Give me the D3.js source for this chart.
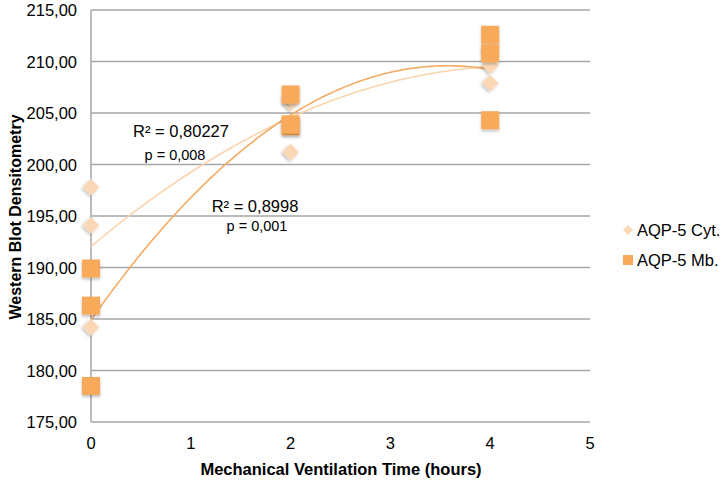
<!DOCTYPE html>
<html>
<head>
<meta charset="utf-8">
<script src="https://cdn.jsdelivr.net/npm/d3@7"></script>
<style>
  body { margin: 0; background: #fff; }
  text { font-family: "Liberation Sans", Arial, sans-serif; fill: #000; }
</style>
</head>
<body>
<div id="chart"></div>
<script>
// Chart data
const hours = [0, 0, 0, 2, 2, 2, 4, 4, 4];
const cytValues = [197.8, 194.1, 184.2, 201.2, 206.0, 206.5, 209.6, 207.9, 211.0];
const mbValues = [189.9, 186.3, 178.5, 206.8, 203.7, 203.9, 212.6, 210.8, 204.3];
const yTicks = [175, 180, 185, 190, 195, 200, 205, 210, 215];
const xTicks = [0, 1, 2, 3, 4, 5];
const seriesNames = ["AQP-5 Cyt.", "AQP-5 Mb."];
const fitLabels = [["R² = 0,80227", "p = 0,008"], ["R² = 0,8998", "p = 0,001"]];

const width = 724;
const height = 483;
const margin = { top: 10, right: 134, bottom: 61, left: 91 };

const cytColor = '#fbd7b6';
const mbColor = '#f8a95a';
const cytLine = '#fbd4ae';
const mbLine = '#f4aa62';

const svg = d3.select('#chart')
  .append('svg')
  .attr('width', width)
  .attr('height', height);

const defs = svg.append('defs');
const shadow = defs.append('filter').attr('id', 'shadow')
  .attr('x', '-50%').attr('y', '-50%').attr('width', '200%').attr('height', '200%');
shadow.append('feDropShadow')
  .attr('dx', 0).attr('dy', 2).attr('stdDeviation', 1.5)
  .attr('flood-color', '#000').attr('flood-opacity', 0.25);

const x = d3.scaleLinear().domain([0, 5]).range([margin.left, width - margin.right]);
const y = d3.scaleLinear().domain([175, 215]).range([height - margin.bottom, margin.top]);

// horizontal gridlines
svg.append('g')
  .selectAll('line')
  .data(yTicks)
  .join('line')
  .attr('x1', x(0)).attr('x2', x(5))
  .attr('y1', d => y(d)).attr('y2', d => y(d))
  .attr('stroke', '#a6a6a6').attr('stroke-width', 1.5);

// y axis line
svg.append('line')
  .attr('x1', x(0)).attr('x2', x(0))
  .attr('y1', y(175)).attr('y2', y(215))
  .attr('stroke', '#a6a6a6').attr('stroke-width', 1.5);

// y tick labels
const fmt = d => d3.format('.2f')(d).replace('.', ',');
svg.append('g')
  .selectAll('text')
  .data(yTicks)
  .join('text')
  .attr('x', x(0) - 14)
  .attr('y', d => y(d) + 6)
  .attr('text-anchor', 'end')
  .attr('font-size', '16.5px')
  .text(fmt);

// x tick labels
svg.append('g')
  .selectAll('text')
  .data(xTicks)
  .join('text')
  .attr('x', d => x(d))
  .attr('y', y(175) + 27)
  .attr('text-anchor', 'middle')
  .attr('font-size', '16.5px')
  .text(d => d);

// axis titles
svg.append('text')
  .attr('x', 341)
  .attr('y', 475)
  .attr('text-anchor', 'middle')
  .attr('font-size', '16.5px')
  .attr('font-weight', 'bold')
  .text('Mechanical Ventilation Time (hours)');

svg.append('text')
  .attr('transform', `translate(21, 217) rotate(-90)`)
  .attr('text-anchor', 'middle')
  .attr('font-size', '16px')
  .attr('font-weight', 'bold')
  .text('Western Blot Densitometry');

// second order polynomial least squares fit
function polyFit(xs, ys) {
  const n = xs.length;
  let s = [0, 0, 0, 0, 0], t = [0, 0, 0];
  for (let i = 0; i < n; i++) {
    for (let k = 0; k < 5; k++) s[k] += Math.pow(xs[i], k);
    for (let k = 0; k < 3; k++) t[k] += ys[i] * Math.pow(xs[i], k);
  }
  const A = [[s[0], s[1], s[2], t[0]], [s[1], s[2], s[3], t[1]], [s[2], s[3], s[4], t[2]]];
  for (let i = 0; i < 3; i++) {
    for (let j = i + 1; j < 3; j++) {
      const f = A[j][i] / A[i][i];
      for (let k = i; k < 4; k++) A[j][k] -= f * A[i][k];
    }
  }
  const c = [0, 0, 0];
  for (let i = 2; i >= 0; i--) {
    let v = A[i][3];
    for (let k = i + 1; k < 3; k++) v -= A[i][k] * c[k];
    c[i] = v / A[i][i];
  }
  return xv => c[0] + c[1] * xv + c[2] * xv * xv;
}

const line = d3.line().x(d => x(d[0])).y(d => y(d[1]));
const steps = d3.range(0, 4.001, 0.05);

const cytFit = polyFit(hours, cytValues);
const mbFit = polyFit(hours, mbValues);

svg.append('path')
  .attr('d', line(steps.map(v => [v, cytFit(v)])))
  .attr('fill', 'none').attr('stroke', cytLine).attr('stroke-width', 1.6);

svg.append('path')
  .attr('d', line(steps.map(v => [v, mbFit(v)])))
  .attr('fill', 'none').attr('stroke', mbLine).attr('stroke-width', 1.6);

// markers
const diamond = d3.symbol().type(d3.symbolSquare).size(140);
svg.append('g')
  .selectAll('path')
  .data(hours.map((h, i) => [h, cytValues[i]]))
  .join('path')
  .attr('d', diamond)
  .attr('transform', d => `translate(${x(d[0])},${y(d[1])}) rotate(45)`)
  .attr('fill', cytColor)
  .attr('filter', 'url(#shadow)');

svg.append('g')
  .selectAll('rect')
  .data(hours.map((h, i) => [h, mbValues[i]]))
  .join('rect')
  .attr('x', d => x(d[0]) - 9)
  .attr('y', d => y(d[1]) - 9)
  .attr('width', 18).attr('height', 18)
  .attr('fill', mbColor)
  .attr('filter', 'url(#shadow)');

// fit annotations
const labelPos = [[181, 137, 175, 160], [255, 212, 257, 231]];
fitLabels.forEach((lab, i) => {
  svg.append('text')
    .attr('x', labelPos[i][0]).attr('y', labelPos[i][1])
    .attr('text-anchor', 'middle').attr('font-size', '16.5px')
    .text(lab[0]);
  svg.append('text')
    .attr('x', labelPos[i][2]).attr('y', labelPos[i][3])
    .attr('text-anchor', 'middle').attr('font-size', '14.5px')
    .text(lab[1]);
});

// legend
const legend = svg.append('g').attr('transform', 'translate(628, 230)');
legend.append('path')
  .attr('d', d3.symbol().type(d3.symbolSquare).size(50))
  .attr('transform', 'rotate(45)')
  .attr('fill', cytColor);
legend.append('rect')
  .attr('x', -5).attr('y', 25).attr('width', 10).attr('height', 10)
  .attr('fill', mbColor);
legend.selectAll('text')
  .data(seriesNames)
  .join('text')
  .attr('x', 9)
  .attr('y', (d, i) => 6 + i * 30)
  .attr('font-size', '16.5px')
  .text(d => d);
</script>
</body>
</html>
